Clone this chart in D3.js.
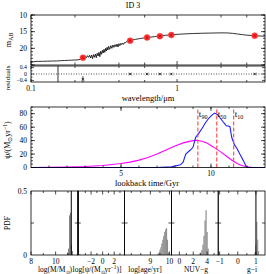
<!DOCTYPE html>
<html><head><meta charset="utf-8">
<script src="https://cdn.jsdelivr.net/npm/d3@7"></script>
<style>
body{margin:0;background:#fff}
svg{display:block}
text{font-family:"Liberation Serif",serif;fill:#000}
</style>
</head><body><svg id="c" width="266" height="274"></svg>
<script>
// ---------- DATA ----------
const specLam = [0.100,0.105,0.110,0.120,0.130,0.140,0.150,0.160,0.170,0.180,0.190,0.200,0.210,0.218,0.224,0.230,
 0.232,0.236,0.240,0.244,0.248,0.252,0.256,0.260,0.264,0.268,0.272,0.276,0.280,0.284,0.288,0.292,0.296,0.300,
 0.304,0.308,0.312,0.316,0.320,0.324,0.328,0.332,0.336,0.340,0.346,0.352,0.358,0.364,0.370,0.376,0.382,0.388,
 0.394,0.400,0.406,0.412,0.418,0.424,0.430,0.436,0.442,0.448,0.456,0.480,0.520,0.560,0.600,0.640,0.700,0.760,
 0.830,0.900,1.000,1.150,1.300,1.500,1.700,2.000,2.200,2.400,2.600,2.800,3.000,3.400,3.700,4.000];
const specMag = [24.15,24.0,23.9,23.9,23.85,23.8,23.8,23.7,23.65,23.6,23.55,23.5,23.45,23.3,23.0,22.7,
 22.6,22.3,22.8,22.2,22.7,22.1,22.9,22.0,23.1,21.9,22.7,21.7,22.8,21.5,22.3,21.2,22.5,20.9,
 21.8,20.6,21.4,20.3,21.2,20.0,20.8,19.7,20.5,19.4,20.3,19.2,20.0,19.0,19.7,18.9,19.5,18.7,
 19.6,18.6,19.2,18.5,18.9,18.4,18.8,18.3,18.4,18.1,17.8,17.6,17.3,17.05,16.85,16.7,16.5,16.3,
 16.1,15.97,15.8,15.65,15.55,15.47,15.42,15.36,15.38,15.5,15.7,15.9,16.05,16.2,16.3,16.35];
const photLam = [0.2267,0.4770,0.6231,0.7625,0.9134,3.40];
const photMag = [22.8,17.7,16.75,16.35,16.0,16.2];
const photRes = [-0.33,0.0,0.0,0.0,0.0,0.0];
const photErr = [0.2,0.02,0.02,0.02,0.02,0.02];
const limitLam = [0.153];
const lamTicksMajor = [0.1,1];
const lamTicksMinor = [0.2,0.4,0.6,2,3];
const residTickLabels = [0.4,0,-0.4];

const sfhT = [0,7.0,7.8,8.3,8.45,8.6,8.85,9.0,9.15,9.3,9.5,9.7,9.9,10.05,10.2,10.35,10.5,10.7,10.85,11.05,11.15,11.3,11.45,11.6,11.8,11.95,12.05,13];
const sfhBlue = [0,0,1,4,8,20,26,30,45,50,58,67,74,78,81,79,74,67,62,61,45,34,28,20,10,2,0,0];
const modT = [0,1,2,3,4,5,5.5,6,6.5,7,7.5,8,8.5,9,9.2,9.5,9.8,10.1,10.5,10.9,11.2,11.45,11.7,12.0,12.3,13];
const modSfr = [0,0.2,0.6,1.5,3,6,8,11,15,20,26,32,37,40,40.5,39,36,31,24,16,10,6,3,1,0,0];
const tMarks = [9.27,10.32,11.26];
const tNames = ["90","50","10"];

const pdfLabels = ["log(M/M_⊙)","log[ψ/(M_⊙yr^−1)]","log[age/yr]","NUV−g","g−i"];
const pdfDomains = [[8,11.8],[-4.3,3.8],[7.65,10.1],[-1.15,5.6],[-1.08,1.5]];
const pdfTickLabels = [[8,10],[-2,0,2],[9,10],[0,2,4],[-1,0,1]];
const pdfMinor = [[9,11],[-3,-1,1,3],[8,8.5,9.5],[1,3,5],[-0.5,0.5]];
const binW = [0.08,0.2,0.05,0.15,0.05];
const binC = [
  [10.97,11.05,11.13,11.21,11.29,11.37],
  [-4.1,-3.9],
  [9.4,9.45,9.5,9.55,9.6,9.65,9.7,9.75,9.8,9.85,9.9,9.95],
  [3.1,3.25,3.4,3.55,3.7,3.85,4.0,4.15],
  [0.95,1.0,1.05,1.1,1.15]];
const binH = [
  [0.02,0.05,0.31,0.33,0.08,0.03],
  [0.008,0.004],
  [0.01,0.02,0.04,0.06,0.09,0.12,0.15,0.18,0.20,0.21,0.12,0.02],
  [0.02,0.04,0.08,0.15,0.27,0.35,0.18,0.05],
  [0.02,0.08,0.26,0.12,0.03]];
const bestFit = [11.27,-4.2,null,null,1.0];

// ---------- DRAW ----------
const svg = d3.select("#c");
const FS = 7.5;

function inTicksX(g, sc, vals, len, yTop, yBot){
  g.selectAll(null).data(vals).enter().append("line")
   .attr("x1",d=>sc(d)).attr("x2",d=>sc(d)).attr("y1",yTop).attr("y2",yTop+len)
   .attr("stroke","#000").attr("stroke-width",0.7);
  g.selectAll(null).data(vals).enter().append("line")
   .attr("x1",d=>sc(d)).attr("x2",d=>sc(d)).attr("y1",yBot).attr("y2",yBot-len)
   .attr("stroke","#000").attr("stroke-width",0.7);
}
function inTicksY(g, sc, vals, len, xL, xR){
  g.selectAll(null).data(vals).enter().append("line")
   .attr("y1",d=>sc(d)).attr("y2",d=>sc(d)).attr("x1",xL).attr("x2",xL+len)
   .attr("stroke","#000").attr("stroke-width",0.7);
  g.selectAll(null).data(vals).enter().append("line")
   .attr("y1",d=>sc(d)).attr("y2",d=>sc(d)).attr("x1",xR).attr("x2",xR-len)
   .attr("stroke","#000").attr("stroke-width",0.7);
}
function frame(x0,y0,x1,y1,w){
  svg.append("rect").attr("x",x0).attr("y",y0).attr("width",x1-x0).attr("height",y1-y0)
    .attr("fill","none").attr("stroke","#000").attr("stroke-width",w||0.8);
}
function richText(sel, s, fs){
  const parts = s.split(/(_[^\/\)a-z]+|\^[^\)]+)/);
  let shift = 0;
  parts.forEach(p=>{
    if(!p) return;
    if(p[0]==="_"){ sel.append("tspan").attr("font-size",fs*0.7).attr("dy",2-shift).text(p.slice(1)); shift=2; }
    else if(p[0]==="^"){ sel.append("tspan").attr("font-size",fs*0.7).attr("dy",-3-shift).text(p.slice(1)); shift=-3; }
    else { sel.append("tspan").attr("font-size",fs).attr("dy",-shift).text(p); shift=0; }
  });
}

// title
svg.append("text").attr("x",133).attr("y",8).attr("text-anchor","middle").attr("font-size",8).text("ID 3");

// ---- SED panel ----
const xS = d3.scaleLog().domain([0.1,4]).range([31,265]);
const yS = d3.scaleLinear().domain([10,25]).range([15,65]);
const yR = d3.scaleLinear().domain([-0.5,0.5]).range([82,66]);
const gS = svg.append("g");
gS.append("defs").append("clipPath").attr("id","clipS").append("rect").attr("x",31).attr("y",15).attr("width",234).attr("height",50);
const spec = specLam.map((l,i)=>[l,specMag[i]]);
gS.append("path").datum(spec).attr("clip-path","url(#clipS)")
  .attr("d",d3.line().x(d=>xS(d[0])).y(d=>yS(d[1])))
  .attr("fill","none").attr("stroke","#000").attr("stroke-width",0.8);
const phot = photLam.map((l,i)=>({l,m:photMag[i],r:photRes[i],e:photErr[i]}));
gS.selectAll(null).data(phot).enter().append("circle")
  .attr("cx",d=>xS(d.l)).attr("cy",d=>yS(d.m)).attr("r",3).attr("fill","#ff2a2a").attr("stroke","#ff5050").attr("stroke-width",0.5);
gS.selectAll(null).data(phot).enter().append("path")
  .attr("d",d=>{const x=xS(d.l),y=yS(d.m);return `M${x-1.2},${y-1.2}L${x+1.2},${y+1.2}M${x-1.2},${y+1.2}L${x+1.2},${y-1.2}`;})
  .attr("stroke","#a00000").attr("stroke-width",0.6);
frame(31,15,265,65);
inTicksY(gS, yS, d3.range(10,26,5), 4, 31, 265);
inTicksY(gS, yS, d3.range(10,26,1), 2, 31, 265);
inTicksX(gS, xS, lamTicksMajor, 4, 15, 65);
inTicksX(gS, xS, lamTicksMinor, 2.5, 15, 65);
gS.selectAll(null).data([10,15,20]).enter().append("text")
  .attr("x",27).attr("y",d=>yS(d)+2.5).attr("text-anchor","end").attr("font-size",FS).text(d=>d);
const tm = gS.append("text").attr("transform","translate(11,40) rotate(-90)").attr("text-anchor","middle");
richText(tm,"m_AB",8.5);

// residuals
const gR = svg.append("g");
gR.append("line").attr("x1",31).attr("x2",265).attr("y1",yR(0)).attr("y2",yR(0))
  .attr("stroke","#000").attr("stroke-width",0.7).attr("stroke-dasharray","1,1.5");
gR.selectAll(null).data(limitLam).enter().append("line")
  .attr("x1",d=>xS(d)).attr("x2",d=>xS(d)).attr("y1",66).attr("y2",82).attr("stroke","#000").attr("stroke-width",0.8);
gR.selectAll(null).data(phot).enter().append("path")
  .attr("d",d=>{const x=xS(d.l),y=yR(d.r);return `M${x-1.3},${y-1.3}L${x+1.3},${y+1.3}M${x-1.3},${y+1.3}L${x+1.3},${y-1.3}M${x},${yR(d.r+d.e)}L${x},${yR(d.r-d.e)}`;})
  .attr("stroke","#000").attr("stroke-width",0.7);
frame(31,66,265,82);
inTicksY(gR, yR, [-0.4,0,0.4], 3, 31, 265);
inTicksY(gR, yR, [-0.2,0.2], 1.5, 31, 265);
inTicksX(gR, xS, lamTicksMajor, 3, 66, 82);
inTicksX(gR, xS, lamTicksMinor, 2, 66, 82);
gR.selectAll(null).data(residTickLabels).enter().append("text")
  .attr("x",27).attr("y",d=>yR(d)+1.8).attr("text-anchor","end").attr("font-size",5.8)
  .text(d=>d===0?"0":(d<0?"−0.4":"0.4"));
gR.append("text").attr("transform","translate(10,78) rotate(-90)").attr("text-anchor","middle").attr("font-size",7).text("residuals");
svg.selectAll(null).data(lamTicksMajor).enter().append("text")
  .attr("x",d=>xS(d)).attr("y",91).attr("text-anchor","middle").attr("font-size",FS).text(d=>d);
svg.append("text").attr("x",148).attr("y",101).attr("text-anchor","middle").attr("font-size",8.5).text("wavelength/μm");

// ---- SFH panel ----
const xT = d3.scaleLinear().domain([0,13]).range([31,265]);
const yT = d3.scaleLinear().domain([0,90]).range([167.5,107]);
const gT = svg.append("g");
const line2 = d3.line().x(d=>xT(d[0])).y(d=>yT(d[1]));
gT.append("path").datum(modT.map((t,i)=>[t,modSfr[i]])).attr("d",line2)
  .attr("fill","none").attr("stroke","#ff00ff").attr("stroke-width",1.1);
gT.append("path").datum(sfhT.map((t,i)=>[t,sfhBlue[i]])).attr("d",line2)
  .attr("fill","none").attr("stroke","#1e1eff").attr("stroke-width",1.1);
gT.selectAll(null).data(tMarks).enter().append("line")
  .attr("x1",d=>xT(d)).attr("x2",d=>xT(d)).attr("y1",yT(0)).attr("y2",109)
  .attr("stroke","#ff4444").attr("stroke-width",1.1).attr("stroke-dasharray","4,2");
tMarks.forEach((t,i)=>{
  const tx = gT.append("text").attr("x",xT(t)+1).attr("y",117);
  tx.append("tspan").attr("font-size",9).text("t");
  tx.append("tspan").attr("font-size",6).attr("dy",2).text(tNames[i]);
});
frame(31,107,265,167.5);
inTicksY(gT, yT, d3.range(0,91,20), 4, 31, 265);
inTicksY(gT, yT, d3.range(0,91,5), 2, 31, 265);
inTicksX(gT, xT, [5,10], 4, 107, 167.5);
inTicksX(gT, xT, d3.range(1,13,1), 2, 107, 167.5);
gT.selectAll(null).data(d3.range(0,81,20)).enter().append("text")
  .attr("x",27).attr("y",d=>yT(d)+2.5).attr("text-anchor","end").attr("font-size",FS).text(d=>d);
gT.selectAll(null).data([5,10]).enter().append("text")
  .attr("x",d=>xT(d)).attr("y",176).attr("text-anchor","middle").attr("font-size",FS).text(d=>d);
svg.append("text").attr("x",147).attr("y",186).attr("text-anchor","middle").attr("font-size",8.5).text("lookback time/Gyr");
const tpsi = svg.append("text").attr("transform","translate(10,140) rotate(-90)").attr("text-anchor","middle");
richText(tpsi,"ψ/(M_⊙yr^−1)",8);

// ---- PDF panels ----
const yP = d3.scaleLinear().domain([0,0.5]).range([255,191]);
const pw = 46.8;
pdfDomains.forEach((dom,k)=>{
  const x0 = 31 + k*pw, x1 = x0 + pw;
  const sc = d3.scaleLinear().domain(dom).range([x0,x1]);
  const g = svg.append("g");
  const bins = binC[k].map((c,i)=>({c,h:binH[k][i]}));
  g.selectAll(null).data(bins).enter().append("rect")
    .attr("x",d=>sc(d.c-binW[k]/2)).attr("width",d=>sc(d.c+binW[k]/2)-sc(d.c-binW[k]/2))
    .attr("y",d=>yP(d.h)).attr("height",d=>yP(0)-yP(d.h)).attr("fill","#808080");
  if(bestFit[k]!==null){
    g.append("line").attr("x1",sc(bestFit[k])).attr("x2",sc(bestFit[k])).attr("y1",yP(0)).attr("y2",yP(0.5))
      .attr("stroke","#000").attr("stroke-width",1);
  }
  frame(x0,191,x1,255);
  inTicksY(g, yP, [0.25], 3, x0, x1);
  inTicksX(g, sc, pdfTickLabels[k], 3.5, 191, 255);
  inTicksX(g, sc, pdfMinor[k], 2, 191, 255);
  g.selectAll(null).data(pdfTickLabels[k]).enter().append("text")
    .attr("x",d=>sc(d)).attr("y",263.5).attr("text-anchor","middle").attr("font-size",FS)
    .text(d=>d<0?"−"+(-d):d);
});
const labX = [55,97,145,196,252];
pdfLabels.forEach((s,k)=>{
  const t = svg.append("text").attr("x",labX[k]).attr("y",272).attr("text-anchor","middle");
  richText(t,s,7.5);
});
svg.selectAll(null).data([0.5,0]).enter().append("text")
  .attr("x",27).attr("y",d=>yP(d)+2.5).attr("text-anchor","end").attr("font-size",FS).text(d=>d);
svg.append("text").attr("transform","translate(10,223) rotate(-90)").attr("text-anchor","middle").attr("font-size",7.5).text("PDF");
</script>
</body></html>
